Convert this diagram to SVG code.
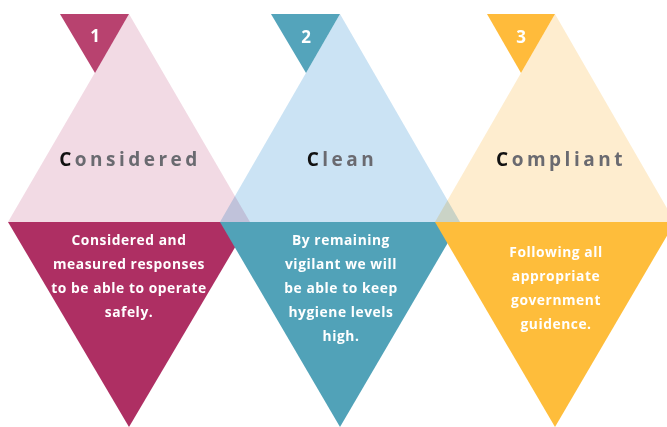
<svg xmlns="http://www.w3.org/2000/svg" width="667" height="427" viewBox="0 0 667 427">
<style>
.up{mix-blend-mode:multiply}
.num{font-family:"Open Sans",sans-serif;font-weight:700;font-size:17px;fill:#fff;text-anchor:middle}
.head{font-family:"Open Sans",sans-serif;font-weight:700;font-size:19px;fill:#6a6a70;letter-spacing:3.5px;text-anchor:middle}
.head tspan.c{fill:#111}
.body{font-family:"Open Sans",sans-serif;font-weight:700;font-size:13.8px;fill:#fff;letter-spacing:0.55px;text-anchor:middle}
</style>
<rect width="667" height="427" fill="#fff"/>
<g id="bottoms">
<polygon id="b1" points="8,222 250,222 129,427" fill="#ae2f63"/>
<polygon id="b2" points="220,222 460,222 340,427" fill="#51a2b8"/>
<polygon id="b3" points="435,222 675,222 555,427" fill="#febd3b"/>
</g>
<g id="tops">
<polygon class="up" points="129,14 250,222 8,222" fill="#f2dae4"/>
<polygon class="up" points="340,14 460,222 220,222" fill="#cbe3f4"/>
<polygon class="up" points="555,14 675,222 435,222" fill="#feedcf"/>
</g>
<g id="step1">
<polygon points="60,14 129,14 95,73" fill="#b8426f"/>
<text class="num" x="95" y="42">1</text>
<text class="head" x="130" y="166"><tspan class="c">C</tspan>onsidered</text>
<text class="body" x="129"><tspan x="129" y="245">Considered and</tspan><tspan x="129" y="269">measured responses</tspan><tspan x="129" y="293">to be able to operate</tspan><tspan x="129" y="317">safely.</tspan></text>
</g>
<g id="step2">
<polygon points="271,14 340,14 306,73" fill="#54a4bb"/>
<text class="num" x="306" y="43">2</text>
<text class="head" x="342" y="166"><tspan class="c">C</tspan>lean</text>
<text class="body" x="341"><tspan x="341" y="245">By remaining</tspan><tspan x="341" y="269">vigilant we will</tspan><tspan x="341" y="293">be able to keep</tspan><tspan x="341" y="317">hygiene levels</tspan><tspan x="341" y="341">high.</tspan></text>
</g>
<g id="step3">
<polygon points="487,14 555,14 521,73" fill="#ffbb3b"/>
<text class="num" x="521" y="43">3</text>
<text class="head" x="561" y="166"><tspan class="c">C</tspan>ompliant</text>
<text class="body" x="556"><tspan x="556" y="257">Following all</tspan><tspan x="556" y="281">appropriate</tspan><tspan x="556" y="305">government</tspan><tspan x="556" y="329">guidence.</tspan></text>
</g>
<g id="connectors"/>
</svg>
